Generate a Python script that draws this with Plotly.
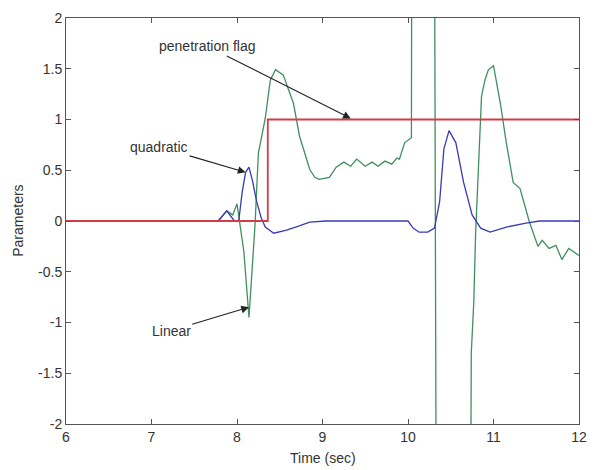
import plotly.graph_objects as go

# ---- data ----
flag_x = [6, 8.36, 8.36, 12]
flag_y = [0, 0, 1, 1]

quad_x = [6, 7.78, 7.88, 7.97, 8.02, 8.06, 8.10, 8.14, 8.18, 8.23, 8.28, 8.33, 8.43, 8.58, 8.72, 8.85, 9.04,
          10.0, 10.06, 10.13, 10.23, 10.31, 10.37, 10.42, 10.48, 10.56, 10.65, 10.75,
          10.85, 10.96, 11.15, 11.38, 11.54, 12]
quad_y = [0, 0, 0.1, 0.0, 0.0, 0.28, 0.48, 0.53, 0.40, 0.19, 0.04, -0.06, -0.12, -0.09, -0.05, -0.01, 0.0,
          0.0, -0.07, -0.11, -0.11, -0.07, 0.19, 0.71, 0.89, 0.77, 0.38, 0.06,
          -0.07, -0.11, -0.06, -0.02, 0.0, 0.0]

lin_x = [6, 7.78, 7.88, 7.95, 8.0, 8.08, 8.14, 8.21, 8.25, 8.33, 8.39, 8.45, 8.54, 8.66,
         8.73, 8.85, 8.91, 8.96, 9.08, 9.16, 9.25, 9.33, 9.40, 9.50, 9.58, 9.65, 9.73,
         9.81, 9.87, 9.90, 9.96, 10.04, 10.05, 10.30, 10.34, 10.72, 10.74, 10.77, 10.79,
         10.83, 10.86, 10.90, 10.94, 11.0, 11.08, 11.15, 11.23, 11.31, 11.42, 11.52,
         11.57, 11.65, 11.73, 11.80, 11.88, 12.0]
lin_y = [0, 0, 0.1, 0.06, 0.17, -0.30, -0.95, -0.05, 0.67, 1.01, 1.39, 1.49, 1.44, 1.16,
         0.84, 0.51, 0.43, 0.41, 0.43, 0.53, 0.58, 0.54, 0.61, 0.54, 0.58, 0.54, 0.59,
         0.56, 0.62, 0.61, 0.77, 0.82, 6.0, 6.0, -6.0, -6.0, -1.3, -0.79, -0.14,
         0.67, 1.23, 1.39, 1.49, 1.53, 1.16, 0.77, 0.38, 0.32, -0.01, -0.25,
         -0.19, -0.27, -0.24, -0.38, -0.27, -0.34]

x_ticks = [6, 7, 8, 9, 10, 11, 12]
y_ticks = [2, 1.5, 1, 0.5, 0, -0.5, -1, -1.5, -2]
y_ticktext = ["2", "1.5", "1", "0.5", "0", "-0.5", "-1", "-1.5", "-2"]

# annotations: (label, arrow tip x, tip y, text x, text y)
notes = [
    ("penetration flag", 9.33, 1.01, 7.66, 1.72),
    ("quadratic", 8.10, 0.48, 7.09, 0.73),
    ("Linear", 8.14, -0.85, 7.23, -1.08),
]

FONT = "Liberation Sans, Arial, sans-serif"

fig = go.Figure()
fig.add_trace(go.Scatter(x=lin_x, y=lin_y, mode="lines",
                         line=dict(color="#3f8f5f", width=1.3), showlegend=False))
fig.add_trace(go.Scatter(x=quad_x, y=quad_y, mode="lines",
                         line=dict(color="#3a3ab8", width=1.3), showlegend=False))
fig.add_trace(go.Scatter(x=flag_x, y=flag_y, mode="lines",
                         line=dict(color="#d43c48", width=1.8), showlegend=False))

for label, tx, ty, ax, ay in notes:
    fig.add_annotation(x=tx, y=ty, ax=ax, ay=ay, xref="x", yref="y", axref="x", ayref="y",
                       text=label, showarrow=True, arrowhead=2, arrowsize=1.4,
                       arrowwidth=1.1, arrowcolor="#222",
                       font=dict(size=14, color="#333", family=FONT))

fig.add_annotation(text="Time (sec)", xref="paper", yref="paper", x=0.5, y=-0.083,
                   showarrow=False, yanchor="middle", xanchor="center",
                   font=dict(size=14, color="#333", family=FONT))
fig.add_annotation(text="Parameters", xref="paper", yref="paper", x=-0.094, y=0.5,
                   showarrow=False, textangle=-90, xanchor="center", yanchor="middle",
                   font=dict(size=14, color="#333", family=FONT))

axis_common = dict(showgrid=False, zeroline=False, showline=True, linecolor="#555",
                   linewidth=1, mirror="ticks", ticks="inside", ticklen=5,
                   tickcolor="#555", tickfont=dict(size=14, color="#333", family=FONT))

fig.update_layout(
    width=597, height=470,
    margin=dict(l=66, r=10, t=14, b=46),
    plot_bgcolor="white", paper_bgcolor="white",
    xaxis=dict(range=[6, 12], tickvals=x_ticks, **axis_common),
    yaxis=dict(range=[-2, 2], tickvals=y_ticks, ticktext=y_ticktext, **axis_common),
    font=dict(family=FONT, size=14, color="#333"),
)

fig.write_html("out.html")
